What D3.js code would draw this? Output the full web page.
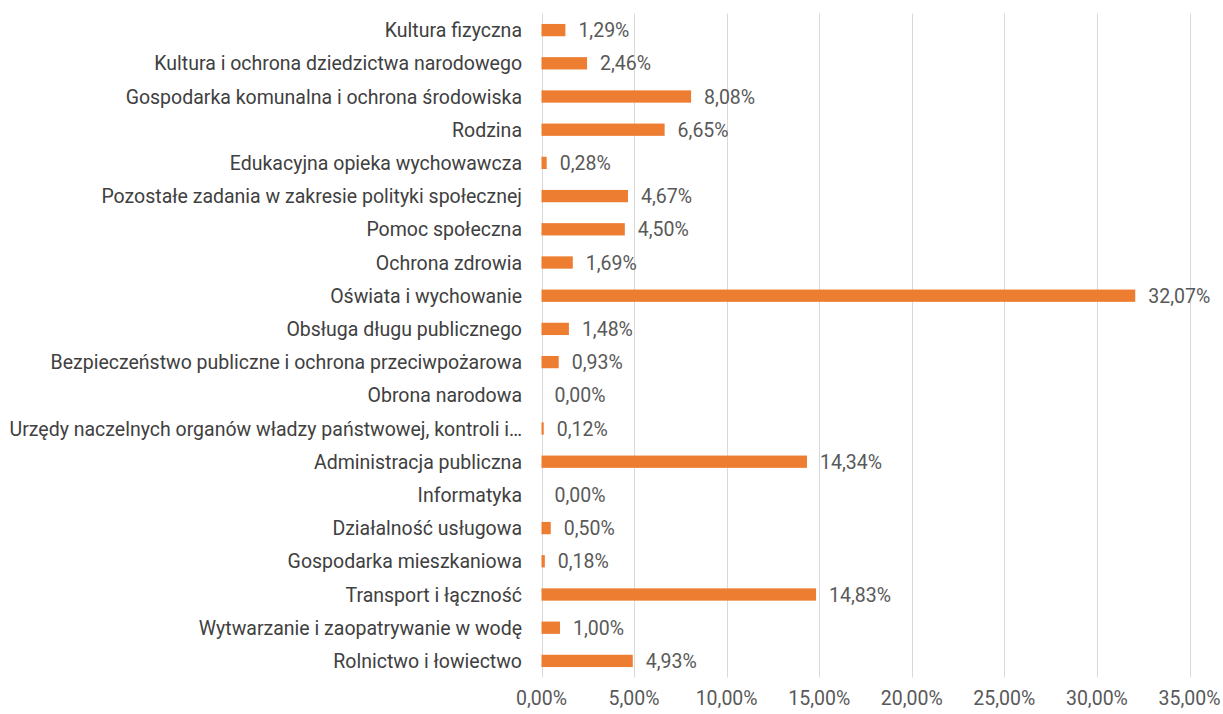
<!DOCTYPE html>
<html>
<head>
<meta charset="utf-8">
<script src="https://cdn.jsdelivr.net/npm/d3@7.9.0/dist/d3.min.js"></script>
<style>
  body { margin: 0; background: #fff; }
  svg text { font-family: "Roboto", sans-serif; }
</style>
</head>
<body>
<svg id="chart" width="1223" height="714"></svg>
<script>
const categories = [
  'Kultura fizyczna',
  'Kultura i ochrona dziedzictwa narodowego',
  'Gospodarka komunalna i ochrona środowiska',
  'Rodzina',
  'Edukacyjna opieka wychowawcza',
  'Pozostałe zadania w zakresie polityki społecznej',
  'Pomoc społeczna',
  'Ochrona zdrowia',
  'Oświata i wychowanie',
  'Obsługa długu publicznego',
  'Bezpieczeństwo publiczne i ochrona przeciwpożarowa',
  'Obrona narodowa',
  'Urzędy naczelnych organów władzy państwowej, kontroli i…',
  'Administracja publiczna',
  'Informatyka',
  'Działalność usługowa',
  'Gospodarka mieszkaniowa',
  'Transport i łączność',
  'Wytwarzanie i zaopatrywanie w wodę',
  'Rolnictwo i łowiectwo'
];
const values = [1.29, 2.46, 8.08, 6.65, 0.28, 4.67, 4.50, 1.69, 32.07, 1.48,
  0.93, 0.00, 0.12, 14.34, 0.00, 0.50, 0.18, 14.83, 1.00, 4.93];
const ticks = [0, 5, 10, 15, 20, 25, 30, 35];

const fmt = v => v.toFixed(2).replace('.', ',') + '%';
const data = categories.map((c, i) => ({ label: c, value: values[i] }));

const svg = d3.select('#chart');
const plotLeft = 541.5, plotRight = 1189.5, plotTop = 13.5, plotBottom = 677.5;
const fontSize = 19.5;

let x = d3.scaleLinear().domain([0, 35]).range([plotLeft, plotRight]);
let y = d3.scaleBand().domain(categories).range([plotTop, plotBottom]).paddingInner(0.63).paddingOuter(0.315);

// gridlines
svg.append('g').selectAll('line').data(ticks).join('line')
  .attr('x1', d => Math.round(x(d)) + 0.5).attr('x2', d => Math.round(x(d)) + 0.5)
  .attr('y1', plotTop).attr('y2', plotBottom)
  .attr('stroke', '#d9d9d9').attr('stroke-width', 1);

// x tick labels
svg.append('g').selectAll('text').data(ticks).join('text')
  .attr('x', d => x(d)).attr('y', 705)
  .attr('text-anchor', 'middle')
  .attr('font-size', fontSize).attr('fill', '#595959')
  .text(d => fmt(d));

// category labels
svg.append('g').selectAll('text').data(data).join('text')
  .attr('x', 522).attr('y', d => y(d.label) + y.bandwidth() / 2)
  .attr('dy', '0.36em')
  .attr('text-anchor', 'end')
  .attr('font-size', fontSize).attr('fill', '#404040')
  .text(d => d.label);

// bars
svg.append('g').selectAll('rect').data(data).join('rect')
  .attr('x', x(0)).attr('y', d => y(d.label))
  .attr('width', d => x(d.value) - x(0))
  .attr('height', y.bandwidth())
  .attr('fill', '#ed7d31');

// value labels
svg.append('g').selectAll('text').data(data).join('text')
  .attr('x', d => x(d.value) + 13).attr('y', d => y(d.label) + y.bandwidth() / 2)
  .attr('dy', '0.36em')
  .attr('font-size', fontSize).attr('fill', '#595959')
  .text(d => fmt(d.value));
</script>
</body>
</html>
